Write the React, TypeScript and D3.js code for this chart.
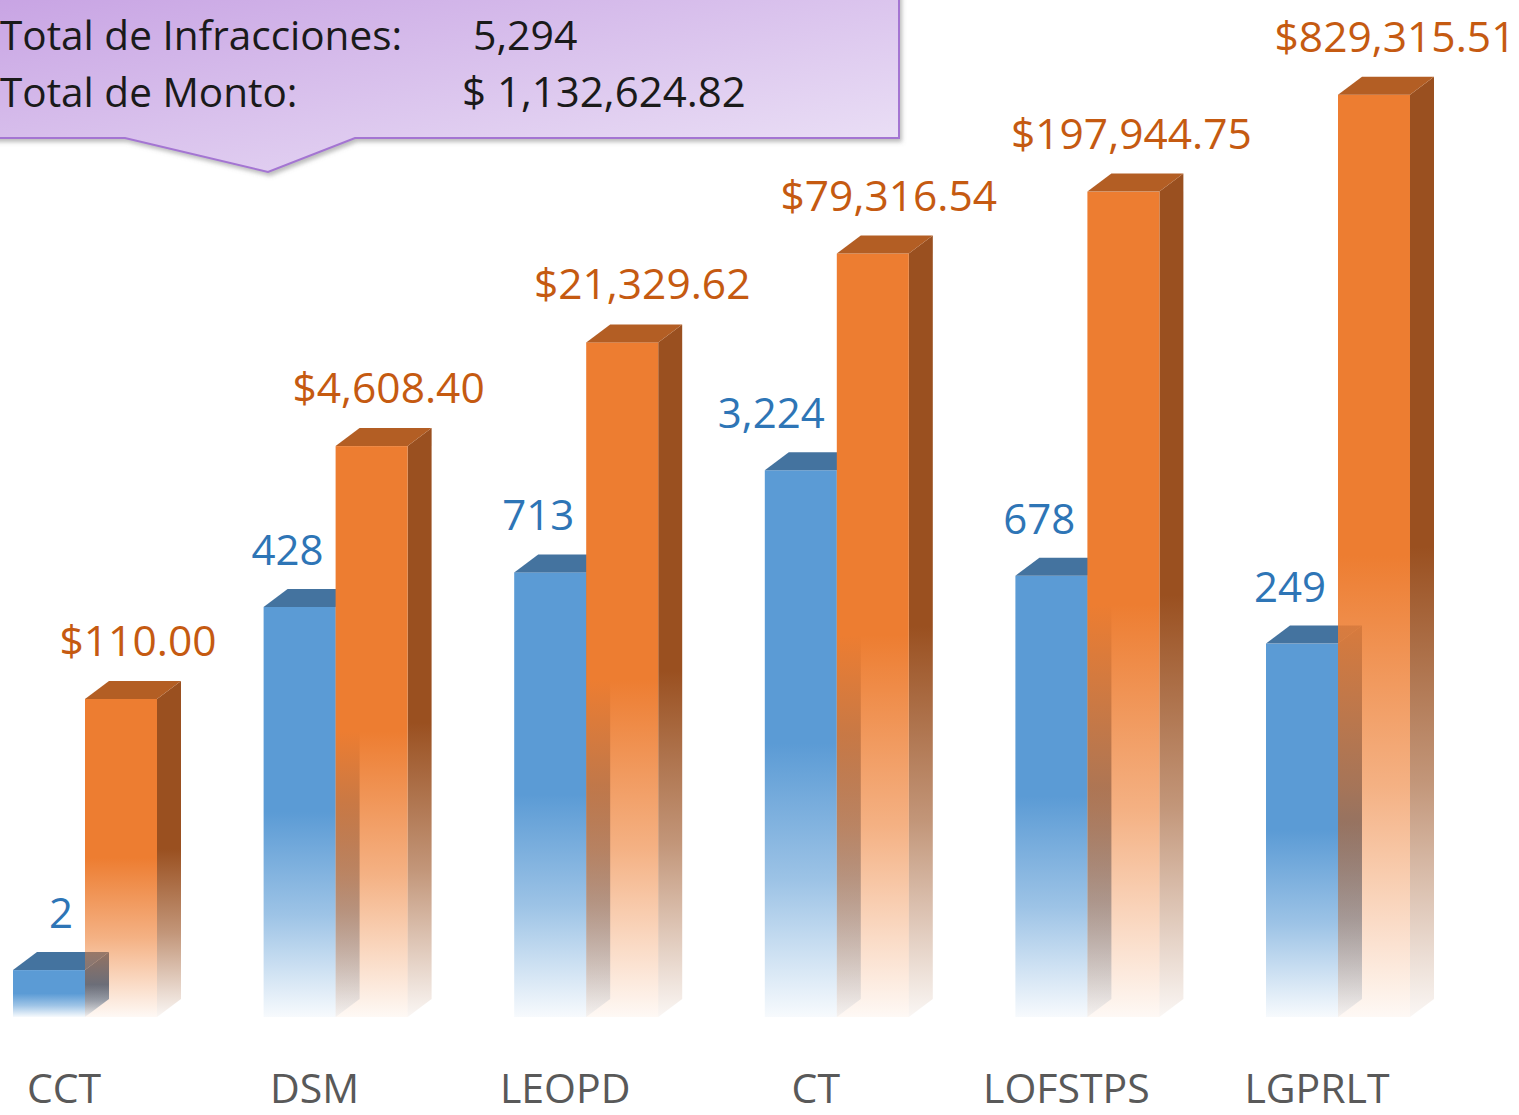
import React from "react";
import * as d3 from "d3";

const categories = ["CCT", "DSM", "LEOPD", "CT", "LOFSTPS", "LGPRLT"];
const infracciones = [2, 428, 713, 3224, 678, 249];
const montos = [110.0, 4608.4, 21329.62, 79316.54, 197944.75, 829315.51];
const totalInfLabel = "Total de Infracciones:";
const totalMontoLabel = "Total de Monto:";

const W = 1519;
const H = 1115;
const BASE = 1017;
const BAR_W = 72;
const DX = 24;
const DY = 18;
const FONT = "'Open Sans', 'Noto Sans', sans-serif";

const BLUE = "#5B9BD5";
const BLUE_TOP = "#44739F";
const BLUE_SIDE = "#3B6893";
const ORANGE = "#ED7D31";
const ORANGE_TOP = "#B35E24";
const ORANGE_SIDE = "#9A5020";

function fadeGrad(id: string, color: string) {
  return (
    <linearGradient id={id} x1="0" y1="0" x2="0" y2="1">
      <stop offset="0" stopColor={color} stopOpacity={1} />
      <stop offset="0.5" stopColor={color} stopOpacity={1} />
      <stop offset="0.75" stopColor={color} stopOpacity={0.6} />
      <stop offset="1" stopColor={color} stopOpacity={0.05} />
    </linearGradient>
  );
}

function Bar({ x, yTop, front, side, top }: { x: number; yTop: number; front: string; side: string; top: string }) {
  const sidePts = `${x + BAR_W},${yTop} ${x + BAR_W + DX},${yTop - DY} ${x + BAR_W + DX},${BASE - DY} ${x + BAR_W},${BASE}`;
  const topPts = `${x},${yTop} ${x + DX},${yTop - DY} ${x + BAR_W + DX},${yTop - DY} ${x + BAR_W},${yTop}`;
  return (
    <g>
      <polygon points={sidePts} fill={`url(#${side})`} />
      <rect x={x} y={yTop} width={BAR_W} height={BASE - yTop} fill={`url(#${front})`} />
      <polygon points={topPts} fill={top} />
    </g>
  );
}

export default function App() {
  const x = d3.scaleBand<string>().domain(categories).range([13, 13 + 250.6 * categories.length]).padding(0);
  const y = d3.scaleLog().domain([1, 1e6]).range([BASE, 82]);
  const fmtInt = d3.format(",");
  const fmtMoney = d3.format("$,.2f");
  const totalInf = d3.sum(infracciones);
  const totalMonto = d3.sum(montos);
  const orangeShift = [17, 17, 20, 16, 8, 21];

  return (
    <div style={{ position: "absolute", left: 0, top: 0, width: W, height: H, overflow: "hidden", background: "#fff" }}>
      <svg width={W} height={H} style={{ display: "block" }} fontFamily={FONT}>
        <defs>
          {fadeGrad("bf", BLUE)}
          {fadeGrad("bs", BLUE_SIDE)}
          {fadeGrad("of", ORANGE)}
          {fadeGrad("os", ORANGE_SIDE)}
          <linearGradient id="callout" x1="0" y1="0" x2="1" y2="1">
            <stop offset="0" stopColor="#C7A2E3" />
            <stop offset="1" stopColor="#EDE4F7" />
          </linearGradient>
          <filter id="shadow" x="-5%" y="-5%" width="110%" height="130%">
            <feDropShadow dx="2" dy="3" stdDeviation="2" floodColor="#777" floodOpacity="0.5" />
          </filter>
        </defs>

        {categories.map((c, i) => {
          const bx = x(c) as number;
          const ox = bx + BAR_W;
          const yb = y(infracciones[i]);
          const yo = y(montos[i]);
          return (
            <g key={c}>
              <Bar x={bx} yTop={yb} front="bf" side="bs" top={BLUE_TOP} />
              <Bar x={ox} yTop={yo} front="of" side="os" top={ORANGE_TOP} />
              <text x={ox - 12} y={yb - 42} textAnchor="end" fontSize={42} fill="#2E75B6">
                {fmtInt(infracciones[i])}
              </text>
              <text x={ox + BAR_W / 2 + orangeShift[i]} y={yo - 43} textAnchor="middle" fontSize={42.5} fill="#C55A11">
                {fmtMoney(montos[i])}
              </text>
              <text x={bx + 51} y={1103} textAnchor="middle" fontSize={41} fill="#595959">
                {c}
              </text>
            </g>
          );
        })}

        <g filter="url(#shadow)">
          <path
            d="M -10,-10 L 899,-10 L 899,138 L 355,138 L 268,172 L 125,138 L -10,138 Z"
            fill="url(#callout)"
            stroke="#A475D2"
            strokeWidth={2}
          />
        </g>
        <text x={0} y={50} fontSize={40.5} fill="#1a1a1a">{totalInfLabel}</text>
        <text x={473} y={50} fontSize={41} fill="#1a1a1a">{fmtInt(totalInf)}</text>
        <text x={0} y={107} fontSize={40.5} fill="#1a1a1a">{totalMontoLabel}</text>
        <text x={462} y={107} fontSize={42} fill="#1a1a1a">{"$ " + d3.format(",.2f")(totalMonto)}</text>
      </svg>
    </div>
  );
}
